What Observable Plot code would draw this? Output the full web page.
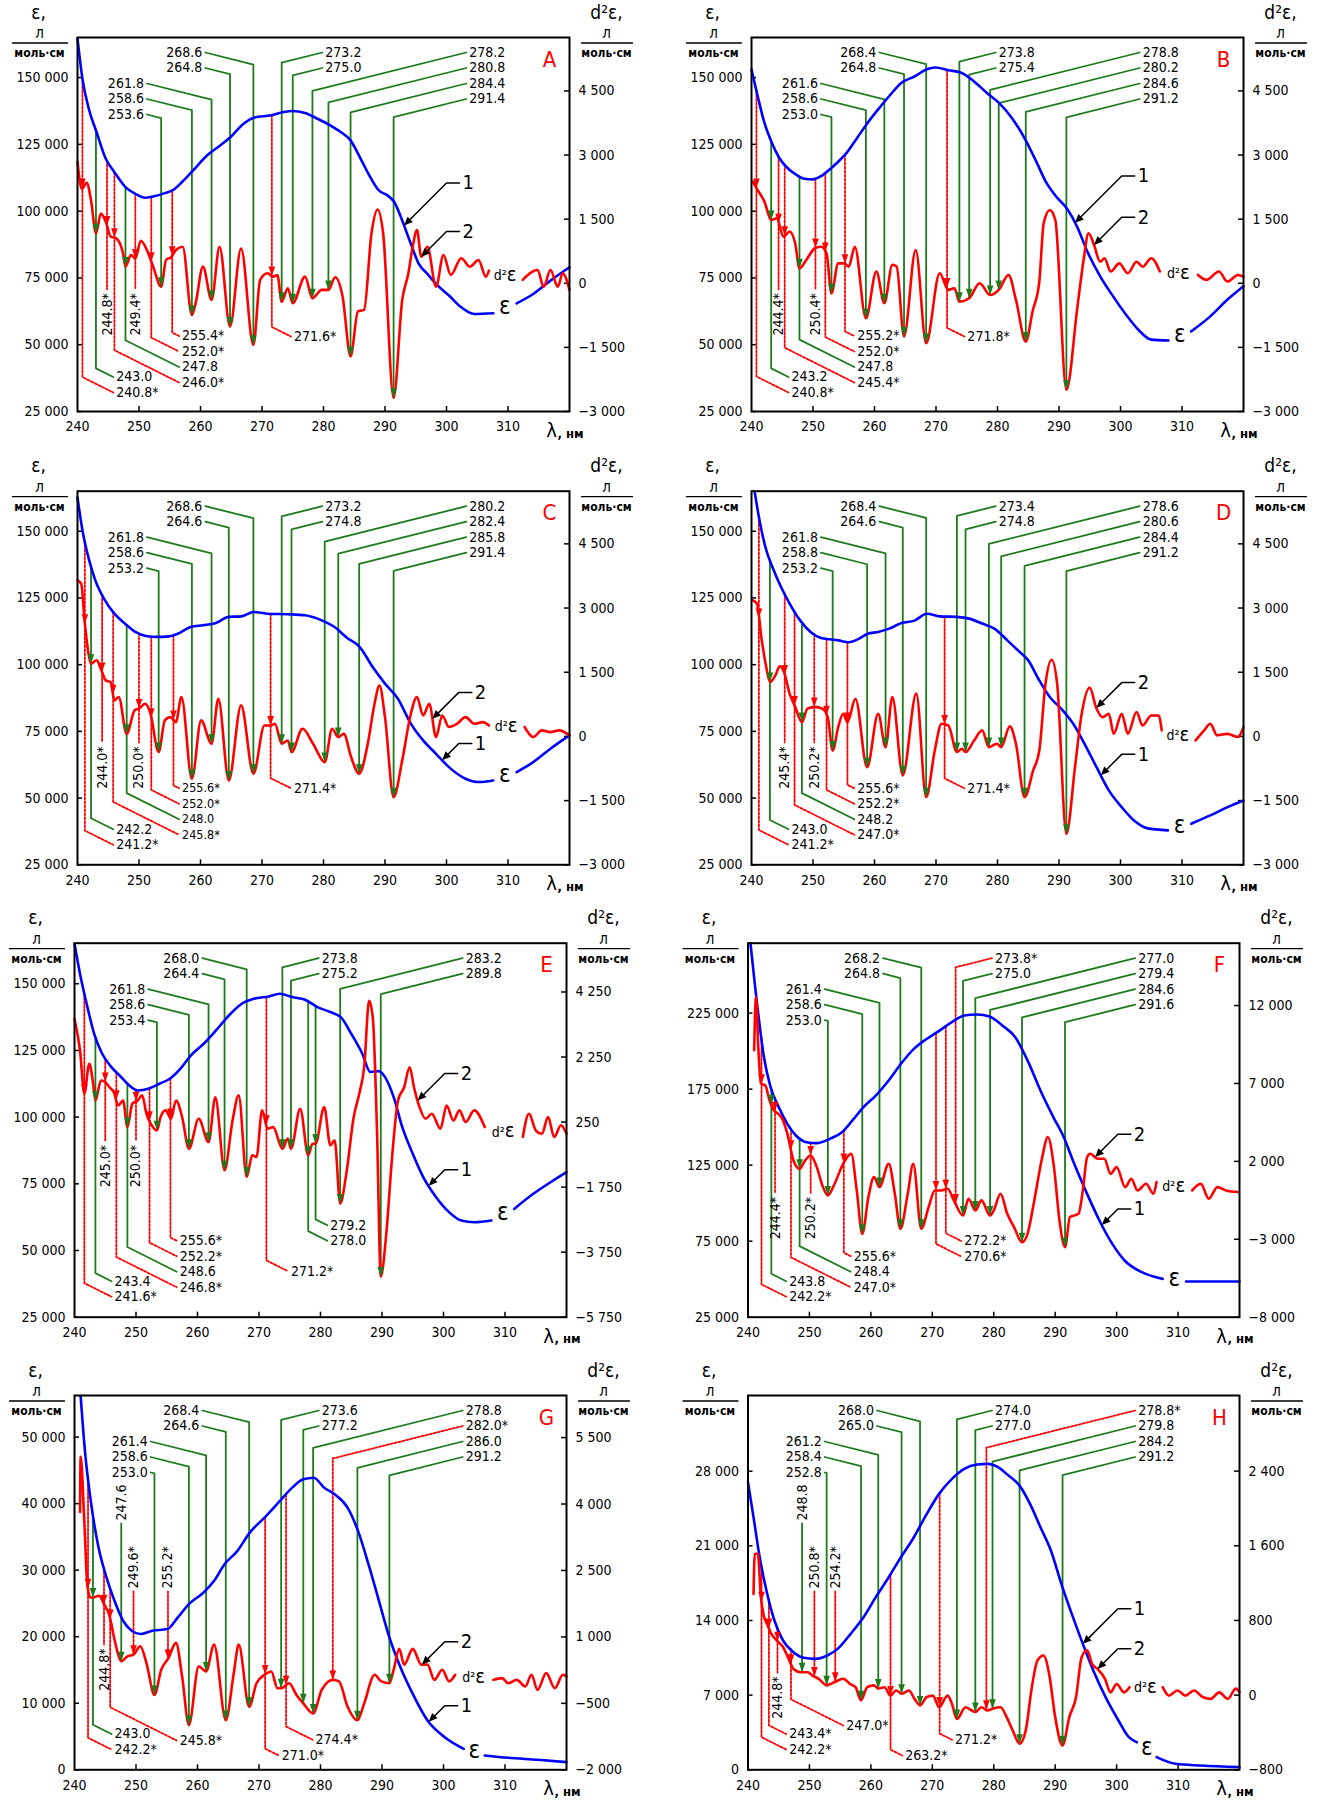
<!DOCTYPE html>
<html lang="ru">
<head>
<meta charset="utf-8">
<title>Спектры</title>
<script src="https://cdn.jsdelivr.net/npm/d3@7"></script>
<script src="https://cdn.jsdelivr.net/npm/@observablehq/plot@0.6"></script>
<style>
html,body{margin:0;padding:0;background:#fff;}
#root{position:relative;width:1321px;height:1801px;overflow:hidden;background:#fff;}
#root svg{position:absolute;}
</style>
</head>
<body>
<div id="root"></div>
<script>
// ---------------- axes / ticks ----------------
const X_MIN = 240, X_MAX = 320;
const X_TICKS = [240, 250, 260, 270, 280, 290, 300, 310];
const L_AD = [25000, 50000, 75000, 100000, 125000, 150000];
const R_AD = [-3000, -1500, 0, 1500, 3000, 4500];
const R_E = [-5750, -3750, -1750, 250, 2250, 4250];
const L_F = [25000, 75000, 125000, 175000, 225000];
const R_F = [-8000, -3000, 2000, 7000, 12000];
const L_G = [0, 10000, 20000, 30000, 40000, 50000];
const R_G = [-2000, -500, 1000, 2500, 4000, 5500];
const L_H = [0, 7000, 14000, 21000, 28000];
const R_H = [-800, 0, 800, 1600, 2400];

// ---------------- panel A ----------------
const A_eps = [[240,164600],[240.8,149600],[241.9,137750],[243.1,129600],[244.6,119600],[246,114600],[247.8,109000],[249.4,106500],[251,105000],[252.3,105500],[254.2,106750],[255.6,108000],[257,110900],[258.7,115000],[261.1,120900],[263.2,124600],[264.9,127750],[267,132750],[268.7,135000],[271.5,135900],[273.5,137100],[274.9,137500],[277,136750],[279,134600],[281.1,132100],[282.8,129600],[284.4,126500],[285.9,120250],[287.3,114000],[289,107750],[290.4,105900],[291.5,103400],[292.8,96500],[294.2,87750],[295.5,80250],[296.9,76500],[298.3,72750],[300.4,68400],[302.4,64000],[304.5,61500],[307.6,61750]];
const A_eps_tail = [[311.4,65500],[314.1,69000],[316.9,74000],[320,79000]];
const A_d2 = [[240,2840],[240.7,2210],[241.5,2350],[242.2,1940],[243,1170],[243.8,1630],[244.6,1440],[245.4,1090],[246.3,1050],[247.4,700],[247.8,390],[248.7,660],[249.4,580],[250.3,995],[251.5,700],[252.3,390],[253.6,-80],[254.4,545],[255.3,620],[256,780],[257.1,855],[258.6,-740],[259.2,-470],[260.4,390],[261.8,-390],[263.1,855],[264.8,-1010],[266.6,815],[268.6,-1440],[269.7,80],[270.9,235],[271.8,155],[272.5,195],[273.2,-430],[274.2,-115],[275,-465],[277,155],[278.2,-350],[279.7,-155],[280.8,-155],[281.9,140],[283.1,-310],[284.4,-1710],[285.6,-660],[286.6,-620],[287.8,1165],[288.8,1725],[289.7,1165],[291.4,-2680],[292.8,-390],[293.8,235],[294.5,855],[295.2,1245],[295.9,620],[296.9,855],[298.3,-80],[299.5,660],[300.7,195],[302.4,585],[303.8,390],[305.2,545],[306.4,155],[306.9,295]];
const A_d2_tail = [[312.4,80],[314.8,310],[315.8,-80],[316.9,310],[318.1,-80],[318.9,235],[320,-155]];
const A_marks = [["268.6","TL",0,0],["264.8","TL",0,1],["261.8","TL",1,2],["258.6","TL",1,3],["253.6","TL",1,4],
 ["273.2","TR",0,0],["275.0","TR",0,1],["278.2","TR",1,0],["280.8","TR",1,1],["284.4","TR",1,2],["291.4","TR",1,3],
 ["240.8*","B",0,0],["243.0","B",0,1],["246.0*","B",1,0],["247.8","B",1,1],["252.0*","B",1,2],["255.4*","B",1,3],["271.6*","B",2,0],
 ["244.8*","V",0],["249.4*","V",0]];

// ---------------- panel B ----------------
const B_eps = [[240,153100],[241,143100],[242.1,133100],[243.3,125600],[244.5,120000],[245.8,116250],[247.2,113750],[248.6,112100],[250,111900],[251.3,113100],[252.7,115600],[254.1,118500],[255.5,121900],[257.2,127500],[258.9,133100],[260.6,138100],[262.4,143100],[264.4,148100],[266.5,150400],[268.5,153100],[269.9,153750],[272,152750],[274,151900],[276.1,148750],[278.2,144400],[280.2,140600],[282.3,135000],[284.5,126900],[286.4,118100],[287.8,111250],[289.5,105600],[291.4,100600],[292.9,94400],[294.7,84400],[296.7,75600],[298.8,68100],[300.9,61250],[302.9,55600],[305,51900],[307.8,51600]];
const B_eps_tail = [[311.5,55000],[314.6,60600],[317.4,66900],[320,71900]];
const B_d2 = [[240.2,2380],[241,2180],[242.1,1910],[243.2,1480],[244.1,1520],[245.2,1090],[246.2,1210],[247.1,935],[247.8,350],[248.9,545],[250.3,820],[251.3,855],[252.2,700],[253,-235],[254.1,465],[255.1,465],[255.8,390],[256.8,855],[258.6,-820],[260.3,275],[261.6,-465],[262.9,430],[263.6,390],[264.8,-1245],[266.7,780],[268.4,-1400],[270.6,235],[272,-155],[273,-115],[273.8,-430],[275.4,-350],[277.1,0],[278.8,-275],[280.2,-155],[281.8,195],[283,-390],[284.6,-1365],[285.7,-660],[286.8,40],[287.5,1400],[288.5,1715],[289.4,1480],[291.2,-2490],[293,-545],[294,545],[294.8,1170],[295.7,895],[296.7,505],[297.4,585],[298.4,275],[299.8,465],[301.2,235],[302.6,505],[303.6,390],[305,585],[306.4,275]];
const B_d2_tail = [[312.6,195],[314,80],[316,275],[317.4,40],[319.1,195],[320,155]];
const B_marks = [["268.4","TL",0,0],["264.8","TL",0,1],["261.6","TL",1,2],["258.6","TL",1,3],["253.0","TL",1,4],
 ["273.8","TR",0,0],["275.4","TR",0,1],["278.8","TR",1,0],["280.2","TR",1,1],["284.6","TR",1,2],["291.2","TR",1,3],
 ["240.8*","B",0,0],["243.2","B",0,1],["245.4*","B",1,0],["247.8","B",1,1],["252.0*","B",1,2],["255.2*","B",1,3],["271.8*","B",2,0],
 ["244.4*","V",0],["250.4*","V",0]];

// ---------------- panel C ----------------
const C_eps = [[240,162600],[240.8,150400],[241.9,139100],[242.9,131600],[244.3,124750],[246,119100],[247.7,115400],[249.4,112250],[251.1,110750],[252.9,110400],[254.9,110600],[256.3,111600],[258.4,114100],[260.4,114750],[262.5,115600],[264.6,117900],[266.6,118100],[268.7,119750],[270.8,119100],[274.2,118900],[277,118500],[279.7,116600],[281.8,114100],[283.8,110100],[285.9,106600],[288,99100],[290,92900],[292.1,87250],[294.2,77900],[296.2,71600],[298.3,66600],[300.4,61600],[303.1,57250],[305.2,56000],[307.6,56600]];
const C_eps_tail = [[311.4,59750],[314.1,63500],[316.9,68500],[320,73500]];
const C_d2 = [[240,3650],[240.6,3570],[241.2,2630],[241.9,1850],[242.2,1700],[243.1,1780],[243.9,1540],[244.6,1310],[245.4,1270],[246,840],[246.7,920],[248,60],[249.3,610],[250,650],[251,765],[251.8,570],[253.2,-365],[254.2,375],[255.1,450],[256,335],[256.9,920],[258.6,-990],[260.1,375],[261.8,-170],[262.9,880],[264.6,-1030],[266.6,725],[268.6,-870],[270.4,255],[271.4,255],[272.1,295],[273.2,-170],[274.2,-95],[274.8,-365],[276.6,180],[278.3,-170],[280.2,-600],[281.4,180],[282.4,-15],[283.3,60],[284.5,-485],[285.8,-870],[287.2,-170],[288.3,765],[289.1,1190],[290,450],[291.4,-1420],[292.8,-560],[294.2,530],[295.2,920],[296.2,490],[297.2,765],[298.3,-15],[299.3,490],[300.4,220],[301.7,295],[303.1,450],[304.5,295],[305.9,335],[306.9,255]];
const C_d2_tail = [[312.7,220],[314.1,-15],[315.5,140],[316.9,100],[318.3,140],[320,25]];
const C_marks = [["268.6","TL",0,0],["264.6","TL",0,1],["261.8","TL",1,2],["258.6","TL",1,3],["253.2","TL",1,4],
 ["273.2","TR",0,0],["274.8","TR",0,1],["280.2","TR",1,0],["282.4","TR",1,1],["285.8","TR",1,2],["291.4","TR",1,3],
 ["241.2*","B",0,0],["242.2","B",0,1],["245.8*","B",1,0],["248.0","B",1,1],["252.0*","B",1,2],["255.6*","B",1,3],["271.4*","B",2,0],
 ["244.0*","V",0],["250.0*","V",0]];

// ---------------- panel D ----------------
const D_eps = [[240.5,165000],[241.4,152900],[242.4,142900],[243.4,136600],[244.8,129100],[246.2,122900],[247.9,116600],[249.6,112250],[251.3,110000],[252.7,109500],[254.1,109100],[255.8,108400],[257.5,109750],[258.9,111600],[260.6,112250],[262.4,113500],[264.4,115600],[266.5,116500],[268.5,119100],[270.6,118100],[273.4,117900],[275.4,117250],[277.5,115400],[279.5,113500],[281.6,109100],[283.3,105400],[285,101600],[286.8,94100],[288.5,87900],[290.6,82900],[292.3,77900],[294,71000],[296.1,61600],[298.1,52900],[300.2,46600],[302.2,41600],[304.3,38750],[307.7,37900]];
const D_eps_tail = [[311.5,40400],[314.6,43500],[317.4,46600],[320,49100]];
const D_d2 = [[240.2,3180],[240.9,3100],[241.6,2320],[242.4,1620],[243,1270],[243.9,1430],[244.6,1640],[245.3,1500],[246.2,1000],[247.1,690],[248.2,335],[249.1,650],[250.3,690],[251.5,650],[252.4,450],[253.2,-330],[254.1,220],[254.9,530],[255.6,335],[256.9,880],[258.8,-720],[260.6,530],[261.8,-250],[262.9,920],[264.6,-910],[266.8,1000],[268.4,-1420],[269.8,-330],[270.9,295],[272,255],[273.4,-365],[274.2,-290],[274.8,-365],[276.2,-95],[277.5,140],[278.6,-250],[279.9,-170],[280.6,-250],[282,235],[283,-170],[284.4,-1420],[285.8,-795],[286.8,-330],[287.8,1230],[288.8,1790],[289.7,1230],[291.2,-2275],[292.6,-720],[293.6,450],[295,1140],[296,690],[297.1,450],[298.1,530],[298.9,60],[300.2,530],[301.2,60],[302.6,570],[303.6,255],[305,490],[306.2,490],[306.7,140]];
const D_d2_tail = [[312.2,-95],[313.6,140],[314.6,295],[315.7,25],[317.4,60],[319.1,-15],[320,220]];
const D_marks = [["268.4","TL",0,0],["264.6","TL",0,1],["261.8","TL",1,2],["258.8","TL",1,3],["253.2","TL",1,4],
 ["273.4","TR",0,0],["274.8","TR",0,1],["278.6","TR",1,0],["280.6","TR",1,1],["284.4","TR",1,2],["291.2","TR",1,3],
 ["241.2*","B",0,0],["243.0","B",0,1],["247.0*","B",1,0],["248.2","B",1,1],["252.2*","B",1,2],["255.6*","B",1,3],["271.4*","B",2,0],
 ["245.4*","V",0],["250.2*","V",0]];

// ---------------- panel E ----------------
const E_eps = [[240,165000],[241,152500],[242.1,141250],[243.2,131250],[244.5,123750],[246,118750],[247.6,115000],[248.9,111900],[250.3,110000],[252,110600],[253.8,112500],[255.5,114400],[257.2,118100],[258.9,123100],[261,127500],[263,132500],[265.1,138100],[267.2,142500],[269.2,144400],[271.6,145250],[273.4,146250],[275.4,145000],[277.5,144000],[279.5,141250],[281.6,139400],[283.3,137500],[285,131250],[286.8,123750],[288.1,116900],[289.5,117250],[290.5,115000],[291.9,107500],[293.3,96250],[295,86250],[296.7,77500],[298.8,70000],[300.9,64400],[302.9,61250],[305,60600],[307.8,61250]];
const E_eps_tail = [[311.5,65600],[314.6,71250],[317.4,75600],[320,79400]];
const E_d2 = [[240,3420],[240.9,2450],[241.6,1120],[242.4,2040],[243,1480],[243.4,910],[244.3,1530],[245,1480],[245.7,1320],[246.4,1170],[247.1,760],[247.9,915],[248.6,100],[249.4,810],[250.3,915],[251,1070],[251.7,505],[252.4,200],[253.4,-5],[254,405],[254.8,610],[255.7,350],[256.5,915],[257.5,405],[258.6,-570],[260.2,350],[261.8,-365],[262.9,1015],[264.4,-1230],[265.7,300],[266.7,1070],[268,-1435],[268.9,-770],[269.6,-825],[270.5,610],[271.4,45],[272.3,95],[273.8,-570],[274.7,-260],[275.2,-570],[276.7,660],[278,-770],[278.7,-415],[279.2,-415],[280.6,710],[281.6,-465],[282.3,-310],[283.2,-2255],[284.2,-1335],[285.4,405],[286.3,1120],[287.1,1935],[287.9,3980],[288.5,3470],[289.2,-110],[289.8,-4500],[290.7,-3175],[291.6,-925],[292.6,915],[293.6,1320],[294.5,1935],[295.2,1320],[296.1,710],[297.1,350],[298.1,505],[299.5,45],[300.5,760],[301.6,300],[302.6,610],[303.6,250],[305,610],[306.7,95]];
const E_d2_tail = [[312.9,-210],[313.9,505],[315,-5],[316,-110],[317,405],[318,-210],[319.1,150],[320,-110]];
const E_marks = [["268.0","TL",0,0],["264.4","TL",0,1],["261.8","TL",1,2],["258.6","TL",1,3],["253.4","TL",1,4],
 ["273.8","TR",0,0],["275.2","TR",0,1],["283.2","TR",1,0],["289.8","TR",1,1],
 ["241.6*","B",0,0],["243.4","B",0,1],["246.8*","B",1,0],["248.6","B",1,1],["252.2*","B",1,2],["255.6*","B",1,3],["271.2*","B",2,0],["278.0","B",3,0],["279.2","B",3,1],
 ["245.0*","V",0],["250.0*","V",0]];

// ---------------- panel F ----------------
const F_eps = [[240.4,271000],[241.6,226800],[242.6,196000],[243.6,177400],[245,163200],[246.4,152200],[247.8,144500],[249.5,140100],[251.2,139500],[253.3,142300],[255.3,146700],[257,154400],[258.8,163200],[260.8,170800],[262.9,180700],[264.9,191700],[267,201500],[268.7,207000],[270.8,212500],[273.2,219100],[275.2,223500],[277.3,224100],[279.3,222800],[281.4,216900],[283.5,209200],[285.5,193900],[287.6,174100],[289.7,156600],[291.4,143400],[293.1,125900],[295.2,106100],[297.2,88600],[299.3,73200],[301.3,62300],[304.1,54600],[307.5,50200]];
const F_eps_tail = [[311.3,48500],[315,48500],[320,48500]];
const F_d2 = [[241,9130],[241.3,12550],[241.7,9130],[242.1,6990],[242.8,6880],[243.5,5920],[244.2,5270],[244.9,5060],[245.7,4630],[246.4,3780],[247.4,2060],[248.4,1530],[249.3,2060],[250.2,2380],[251.2,1630],[252.2,350],[253,-185],[254.1,565],[255.5,1850],[256.8,2490],[257.7,135],[258.6,-2650],[259.6,-290],[260.5,990],[261.4,350],[262.9,1850],[263.9,-80],[264.8,-2325],[266,-80],[266.9,1850],[268.2,-2325],[269.4,-935],[270.4,135],[271.5,135],[272.5,245],[273.5,-505],[275,-1470],[275.9,-400],[277,-1150],[278,-505],[279.4,-1470],[280,-1150],[281.1,-80],[282.2,-1365],[283.3,-2220],[284.6,-3185],[285.5,-2650],[286.6,-505],[287.9,2280],[288.8,3560],[289.8,1630],[290.7,-1790],[291.6,-3505],[292.4,-1575],[293.8,-1365],[294.5,135],[295.2,2280],[295.7,2490],[296.9,2170],[298,2170],[299,1205],[300,1630],[301.4,350],[302.4,885],[303.4,135],[304.8,565],[306,-80],[306.5,670]];
const F_d2_tail = [[312.3,135],[313.7,565],[315,-400],[316.4,350],[317.8,135],[319.7,30]];
const F_marks = [["268.2","TL",0,0],["264.8","TL",0,1],["261.4","TL",1,2],["258.6","TL",1,3],["253.0","TL",1,4],
 ["273.8*","TR",0,0],["275.0","TR",0,1],["277.0","TR",1,0],["279.4","TR",1,1],["284.6","TR",1,2],["291.6","TR",1,3],
 ["242.2*","B",0,0],["243.8","B",0,1],["247.0*","B",1,0],["248.4","B",1,1],["255.6*","B",1,2],["270.6*","B",2,0],["272.2*","B",2,1],
 ["244.4*","V",0],["250.2*","V",0]];

// ---------------- panel G ----------------
const G_eps = [[241,56150],[241.7,47900],[242.8,39400],[243.8,33900],[245.2,28900],[246.5,25400],[247.9,22400],[249.3,20900],[250.7,20400],[252.7,20900],[255.1,21150],[256.8,22900],[258.6,24900],[261,26650],[262.7,28400],[264.4,30900],[266.5,32900],[268.5,35650],[270.9,37900],[273.4,40400],[275.4,42400],[277.2,43650],[278.9,43900],[280.6,42400],[282.3,41400],[284.4,39400],[286.1,35900],[287.8,30900],[289.5,25400],[291.2,19900],[293,15400],[295,11400],[297.4,7400],[300.2,4900],[303.3,3150]];
const G_eps_tail = [[306.7,2150],[310.5,1800],[315.3,1500],[320,1150]];
const G_d2 = [[240.9,3820],[241,5070],[241.6,3590],[242.1,2150],[242.6,1890],[243,1890],[244,1930],[244.8,1740],[245.7,1470],[246.5,940],[247.2,560],[247.6,450],[248.6,560],[249.6,600],[250.7,790],[251.7,410],[253,-310],[254.1,260],[255.3,525],[256.5,865],[257.5,105],[258.6,-990],[260.2,335],[261.4,220],[262.7,825],[264.6,-880],[265.9,185],[266.7,825],[268.4,-575],[269.6,-45],[270.9,145],[272,220],[273,-160],[273.6,-160],[274.9,-45],[276.1,-310],[277.2,-500],[278.8,-730],[280.2,-195],[282,30],[283,-5],[284.4,-575],[286,-880],[287.1,-500],[288.8,145],[289.9,-5],[291.2,-45],[291.9,260],[292.8,730],[293.6,375],[295,730],[296.4,375],[297.4,375],[298.5,30],[299.8,260],[300.9,-5],[301.9,145]];
const G_d2_tail = [[308.1,30],[309.5,70],[310.5,-45],[311.9,30],[313.3,-120],[314.3,145],[315.3,-195],[316.7,185],[318.1,-160],[319.4,145],[320,105]];
const G_marks = [["268.4","TL",0,0],["264.6","TL",0,1],["261.4","TL",1,2],["258.6","TL",1,3],["253.0","TL",1,4],
 ["273.6","TR",0,0],["277.2","TR",0,1],["278.8","TR",1,0],["282.0*","TR",1,1],["286.0","TR",1,2],["291.2","TR",1,3],
 ["242.2*","B",0,0],["243.0","B",0,1],["245.8*","B",1,0],["271.0*","B",2,0],["274.4*","B",3,0],
 ["244.8*","V",0],["247.6","VT",0],["249.6*","VT",1],["255.2*","VT",1]];

// ---------------- panel H ----------------
const H_eps = [[240,26970],[240.9,23690],[241.9,19940],[243,16810],[244.3,14000],[245.7,12125],[247.4,11030],[249.1,10500],[250.9,10400],[252.9,10720],[254.6,11340],[256.7,12750],[258.8,14310],[260.8,16190],[262.9,18060],[264.9,19940],[267,21810],[269.1,24000],[271.1,25875],[273.2,27280],[275.2,28220],[277.3,28625],[279,28690],[280.7,28375],[282.4,27590],[284.2,26650],[285.9,24940],[287.6,22750],[289.3,20560],[291,17440],[292.7,14625],[294.5,11810],[296.2,9310],[298.2,6810],[300.3,4625],[302,3060],[303.3,2590]];
const H_eps_tail = [[306.5,1190],[309.6,560],[313.7,400],[320,250]];
const H_d2 = [[240.9,1085],[241.1,1515],[241.6,1515],[242.1,1050],[242.5,870],[243.1,765],[243.8,655],[244.7,585],[245.7,515],[246.6,390],[247.4,280],[248.6,245],[249.7,245],[250.5,210],[251.5,175],[252.8,105],[254.1,140],[255.5,175],[256.6,120],[257.5,85],[258.4,-55],[259.4,85],[260.5,105],[261.2,70],[262.2,85],[263.2,-5],[264.1,50],[265,15],[266.2,50],[267.1,-40],[268,-110],[269.1,-20],[270.1,-5],[271.1,-130],[272.5,-5],[273.2,-95],[274,-255],[275.4,-130],[277,-180],[278,-130],[279,-165],[279.8,-145],[281.1,-130],[282.1,-235],[283.1,-380],[284.2,-520],[285.2,-380],[286.2,85],[287.1,370],[288.1,425],[289.1,195],[290,-235],[291.2,-540],[292.3,-235],[293.4,-20],[294.3,405],[295.2,480],[296,335],[296.9,280],[298.1,175],[299,30],[300,120],[301.2,30],[302.1,85]];
const H_d2_tail = [[307.5,85],[308.5,-5],[309.9,50],[311.2,-5],[312.6,50],[314,-20],[315.3,-40],[316.7,30],[318.1,-40],[319.4,70],[320,30]];
const H_marks = [["268.0","TL",0,0],["265.0","TL",0,1],["261.2","TL",1,2],["258.4","TL",1,3],["252.8","TL",1,4],
 ["274.0","TR",0,0],["277.0","TR",0,1],["278.8*","TR",1,0],["279.8","TR",1,1],["284.2","TR",1,2],["291.2","TR",1,3],
 ["242.2*","B",0,0],["243.4*","B",0,1],["247.0*","B",1,0],["263.2*","B",2,0],["271.2*","B",3,0],
 ["244.8*","V",0],["248.8","VT",0],["250.8*","VT",1],["254.2*","VT",1]];

// ---------------- layout (positions in page px / nm) ----------------
const PANELS = [
 {id:"A", origin:[0,0], size:[660,450], frame:[77,37,569,411], yL:[25000,165000], yR:[-3000,5750], lt:L_AD, rt:R_AD,
  eps:[A_eps,A_eps_tail], d2:[A_d2,A_d2_tail], marks:A_marks, tl:[260.3,250.8], tr:[280.3,303.7],
  b:[[246.3,19],[257.0,29],[275.2,75]], vUp:[76], vtDown:[], bend:300.0, tips:{"1":293.1,"2":295.9}},
 {id:"B", origin:[660,0], size:[661,450], frame:[751,37,1243,411], yL:[25000,165000], yR:[-3000,5750], lt:L_AD, rt:R_AD,
  eps:[B_eps,B_eps_tail], d2:[B_d2,B_d2_tail], marks:B_marks, tl:[260.3,250.8], tr:[280.2,303.6],
  b:[[246.5,19],[257.2,29],[275.1,75]], vUp:[76], vtDown:[], bend:300.2, tips:{"1":292.6,"2":295.7}},
 {id:"C", origin:[0,450], size:[660,450], frame:[77,490.7,569,864.3], yL:[25000,165000], yR:[-3000,5730], lt:L_AD, rt:R_AD,
  eps:[C_eps,C_eps_tail], d2:[C_d2,C_d2_tail], marks:C_marks, tl:[260.3,250.8], tr:[280.3,303.7],
  b:[[246.3,20],[257.0,30,12.5],[275.2,76.5]], vUp:[76], vtDown:[], bend:302.0, tips:{"1":299.3,"2":297.7}},
 {id:"D", origin:[660,450], size:[661,450], frame:[751,490.7,1243,864.3], yL:[25000,165000], yR:[-3000,5730], lt:L_AD, rt:R_AD,
  eps:[D_eps,D_eps_tail], d2:[D_d2,D_d2_tail], marks:D_marks, tl:[260.3,250.8], tr:[280.2,303.6],
  b:[[246.5,20],[257.2,30],[275.1,76.5]], vUp:[76], vtDown:[], bend:300.2, tips:{"1":296.8,"2":296.1}},
 {id:"E", origin:[0,900], size:[660,450], frame:[74,942.7,566,1316.7], yL:[25000,165200], yR:[-5750,5750], lt:L_AD, rt:R_E,
  eps:[E_eps,E_eps_tail], d2:[E_d2,E_d2_tail], marks:E_marks, tl:[260.3,251.5], tr:[280.2,303.6],
  b:[[246.5,20.5],[257.1,30],[275.2,46],[281.6,76.5]], vUp:[130], vtDown:[], bend:300.2, tips:{"1":297.6,"2":295.8}},
 {id:"F", origin:[660,900], size:[661,450], frame:[747.5,942.7,1239,1316.7], yL:[25000,271000], yR:[-8000,16000], lt:L_F, rt:R_F,
  eps:[F_eps,F_eps_tail], d2:[F_d2,F_d2_tail], marks:F_marks, tl:[261.5,252.0], tr:[280.2,303.5],
  b:[[246.7,20.5],[257.2,30],[275.2,60.7]], vUp:[78], vtDown:[], bend:300.2, tips:{"1":297.6,"2":296.5}},
 {id:"G", origin:[0,1350], size:[660,451], frame:[74,1395,566,1769.3], yL:[0,56250], yR:[-2000,6450], lt:L_G, rt:R_G,
  eps:[G_eps,G_eps_tail], d2:[G_d2,G_d2_tail], marks:G_marks, tl:[260.3,251.9], tr:[280.2,303.6],
  b:[[246.5,20.3],[257.1,29.3],[273.7,14.3],[279.2,30]], vUp:[79], vtDown:[125,193], bend:300.2, tips:{"1":297.6,"2":296.5}},
 {id:"H", origin:[660,1350], size:[661,451], frame:[747.5,1395,1239,1769.3], yL:[0,35100], yR:[-800,3210], lt:L_H, rt:R_H,
  eps:[H_eps,H_eps_tail], d2:[H_d2,H_d2_tail], marks:H_marks, tl:[260.5,252.0], tr:[280.2,303.5],
  b:[[246.7,20.3],[256.0,44.3],[265.6,14.3],[273.7,30]], vUp:[51], vtDown:[125,193], bend:300.2, tips:{"1":294.5,"2":296.9}}
];

// ---------------- style ----------------
const FONT = '"DejaVu Sans Condensed", "DejaVu Sans", Verdana, sans-serif';
const GREEN = "#1d7a1d", RED = "#ff0000", BLUE = "#0000ff";
const ROW0 = 15, ROWS = 15.5, SLOPE_T = 0.25, SLOPE_B = 0.5, GAP = 3;
const loc = d3.formatLocale({decimal: ".", thousands: "\u00a0", grouping: [3], currency: ["", ""], minus: "\u2212"});
const fmt = loc.format(",");
const arrowDown = {draw(ctx) { ctx.moveTo(0, 0); ctx.lineTo(-3.3, -9.5); ctx.lineTo(3.3, -9.5); ctx.closePath(); }};
const arrowDL = {draw(ctx) { ctx.moveTo(0, 0); ctx.lineTo(8.8, -3.4); ctx.lineTo(3.4, -8.8); ctx.closePath(); }};

function interp(segs, w) {
  const a = segs.flat();
  if (w <= a[0].w) return a[0].v;
  for (let i = 1; i < a.length; i++) {
    if (a[i].w >= w) { const p = a[i - 1], q = a[i]; return p.v + (q.v - p.v) * (w - p.w) / (q.w - p.w); }
  }
  return a[a.length - 1].v;
}

function drawPanel(P) {
  const [fl, ft, fr, fb] = P.frame;
  const [ox, oy] = P.origin;
  const [W, H] = P.size;
  const fw = fr - fl, fh = fb - ft;
  const [L0, L1] = P.yL, [R0, R1] = P.yR;
  const xPx = w => (w - X_MIN) / (X_MAX - X_MIN) * fw;
  const xNm = p => X_MIN + p / fw * (X_MAX - X_MIN);
  const yPx = v => (L1 - v) / (L1 - L0) * fh;
  const yVal = p => L1 - p / fh * (L1 - L0);
  const toL = r => L0 + (r - R0) / (R1 - R0) * (L1 - L0);
  const toR = v => R0 + (v - L0) / (L1 - L0) * (R1 - R0);
  const pt = (px, py, extra) => Object.assign({x: xNm(px), y: yVal(py)}, extra || {});

  const eps = P.eps.map(s => s.map(([w, v]) => ({w, v})));
  const d2 = P.d2.map(s => s.map(([w, r]) => ({w, v: toL(r)})));

  const lines = [], heads = [], tStart = [], tEnd = [], tRot = [];
  P.marks.forEach(([t, kind, c, r], i) => {
    const w = parseFloat(t), red = t.includes("*");
    const xw = xPx(w), tipY = yPx(interp(d2, w)), epsY = yPx(interp(eps, w));
    let poly;
    if (kind === "TL") {
      const ex = xPx(P.tl[c]), ry = ROW0 + ROWS * r;
      tEnd.push(pt(ex, ry, {text: t, size: 14}));
      const sx = ex + GAP, jy = ry + SLOPE_T * (xw - sx);
      poly = [[sx, ry], [xw, jy], [xw, tipY]];
    } else if (kind === "TR") {
      const ex = xPx(P.tr[c]), ry = ROW0 + ROWS * r;
      tStart.push(pt(ex, ry, {text: t, size: 14}));
      const sx = ex - GAP, jy = ry + SLOPE_T * (sx - xw);
      poly = [[sx, ry], [xw, jy], [xw, tipY]];
    } else if (kind === "B") {
      const [bx, base, fs] = P.b[c];
      const lx = xPx(bx), ly = fh - base - ROWS * r;
      tStart.push(pt(lx, ly, {text: t, size: fs || 14}));
      const sx = lx - GAP, yb = ly - SLOPE_B * (sx - xw);
      poly = [[xw, Math.min(epsY, tipY - 12)], [xw, yb], [sx, ly]];
    } else if (kind === "V") {
      const yBot = fh - P.vUp[c];
      tRot.push(pt(xw, yBot, {text: t}));
      poly = [[xw, Math.min(epsY, tipY - 12)], [xw, yBot - t.length * 7.2 - 3]];
    } else {
      const yBot = P.vtDown[c];
      tRot.push(pt(xw, yBot, {text: t}));
      poly = [[xw, yBot + 3], [xw, tipY]];
    }
    poly.forEach(([a, b]) => lines.push(pt(a, b, {id: i, red})));
    heads.push(pt(xw, tipY, {red}));
  });

  // curve labels 1 and 2
  const clLines = [], clHeads = [], clText = [];
  [["1", eps], ["2", d2]].forEach(([lab, segs]) => {
    const tw = P.tips[lab], tx = xPx(tw), ty = yPx(interp(segs, tw));
    const bx = xPx(P.bend), by = ty - (bx - tx), hx = bx + 13;
    [[hx, by], [bx, by], [tx + 2, ty - 2]].forEach(([a, b]) => clLines.push(pt(a, b, {id: lab})));
    clHeads.push(pt(tx, ty));
    clText.push(pt(hx + 3, by, {text: lab}));
  });

  // gap labels
  const gapMid = segs => {
    const a = segs[0][segs[0].length - 1], b = segs[1][0];
    return {x: (a.w + b.w) / 2, y: (a.v + b.v) / 2};
  };
  const gE = gapMid(eps), gD = gapMid(d2);
  const gDpx = xPx(gD.x) + 1;

  const tickLen = 5;
  const marks = [
    Plot.ruleY(P.lt, {y: d => d, x1: X_MIN, x2: xNm(tickLen), stroke: "black", strokeWidth: 1.5}),
    Plot.ruleY(P.rt.map(toL), {y: d => d, x1: xNm(fw - tickLen), x2: X_MAX, stroke: "black", strokeWidth: 1.5}),
    Plot.ruleX(X_TICKS.slice(1), {x: d => d, y1: L0, y2: yVal(fh - tickLen), stroke: "black", strokeWidth: 1.5}),
    Plot.axisY({anchor: "left", ticks: P.lt, tickSize: 0, tickPadding: 9, tickFormat: fmt, label: null}),
    Plot.axisY({anchor: "right", ticks: P.rt.map(toL), tickSize: 0, tickPadding: 9, tickFormat: d => fmt(Math.round(toR(d))), label: null}),
    Plot.axisX({ticks: X_TICKS, tickSize: 0, tickPadding: 10, tickFormat: d => String(d), label: null}),
    // annotation lines
    Plot.line(lines.filter(d => !d.red), {x: "x", y: "y", z: "id", stroke: GREEN, strokeWidth: 1.8}),
    Plot.line(lines.filter(d => d.red), {x: "x", y: "y", z: "id", stroke: RED, strokeWidth: 1.8, strokeDasharray: "2.2,1.8"}),
    // curves
    Plot.line(eps[0], {x: "w", y: "v", stroke: BLUE, strokeWidth: 2.6, curve: "monotone-x"}),
    Plot.line(eps[1], {x: "w", y: "v", stroke: BLUE, strokeWidth: 2.6, curve: "monotone-x"}),
    Plot.line(d2[0], {x: "w", y: "v", stroke: RED, strokeWidth: 2.6, curve: "monotone-x"}),
    Plot.line(d2[1], {x: "w", y: "v", stroke: RED, strokeWidth: 2.6, curve: "monotone-x"}),
    // arrowheads
    Plot.dot(heads.filter(d => !d.red), {x: "x", y: "y", symbol: arrowDown, r: 4, fill: GREEN, stroke: "none"}),
    Plot.dot(heads.filter(d => d.red), {x: "x", y: "y", symbol: arrowDown, r: 4, fill: RED, stroke: "none"}),
    // annotation labels
    Plot.text(tEnd, {x: "x", y: "y", text: "text", textAnchor: "end", fontSize: d => d.size, fill: "black"}),
    Plot.text(tStart, {x: "x", y: "y", text: "text", textAnchor: "start", fontSize: d => d.size, fill: "black"}),
    Plot.text(tRot, {x: "x", y: "y", text: "text", textAnchor: "start", rotate: -90, fontSize: 14, fill: "black"}),
    // curve identifiers
    Plot.line(clLines, {x: "x", y: "y", z: "id", stroke: "black", strokeWidth: 1.5}),
    Plot.dot(clHeads, {x: "x", y: "y", symbol: arrowDL, r: 4, fill: "black", stroke: "none"}),
    Plot.text(clText, {x: "x", y: "y", text: "text", textAnchor: "start", fontSize: 20, fill: "black"}),
    Plot.text([gE], {x: "x", y: "y", text: () => "\u03b5", fontSize: 24, dy: -2, fill: "black"}),
    Plot.text([{x: xNm(gDpx), y: gD.y}], {x: "x", y: "y", text: () => "d\u00b2", textAnchor: "end", fontSize: 14, dy: 0, fill: "black"}),
    Plot.text([{x: xNm(gDpx), y: gD.y}], {x: "x", y: "y", text: () => "\u03b5", textAnchor: "start", fontSize: 20, dy: -1, fill: "black"}),
    // panel letter
    Plot.text([pt(fw - 20, 22)], {x: "x", y: "y", text: () => P.id, fontSize: 22, fill: RED}),
    // axis titles
    Plot.text([pt(-39, -25)], {x: "x", y: "y", text: () => "\u03b5,", fontSize: 19}),
    Plot.text([pt(-38, -4.5)], {x: "x", y: "y", text: () => "\u043b", fontSize: 15}),
    Plot.line([pt(-65, 5.5), pt(-10, 5.5)], {x: "x", y: "y", stroke: "black", strokeWidth: 1.3}),
    Plot.text([pt(-38, 15.5)], {x: "x", y: "y", text: () => "\u043c\u043e\u043b\u044c\u00b7\u0441\u043c", fontSize: 12, fontWeight: "bold"}),
    Plot.text([pt(fw + 37, -25)], {x: "x", y: "y", text: () => "d\u00b2\u03b5,", fontSize: 19}),
    Plot.text([pt(fw + 37, -4.5)], {x: "x", y: "y", text: () => "\u043b", fontSize: 15}),
    Plot.line([pt(fw + 12, 5.5), pt(fw + 63, 5.5)], {x: "x", y: "y", stroke: "black", strokeWidth: 1.3}),
    Plot.text([pt(fw + 37, 15.5)], {x: "x", y: "y", text: () => "\u043c\u043e\u043b\u044c\u00b7\u0441\u043c", fontSize: 12, fontWeight: "bold"}),
    Plot.text([pt(fw - 18, fh + 19)], {x: "x", y: "y", text: () => "\u03bb", fontSize: 20}),
    Plot.text([pt(fw - 12, fh + 22)], {x: "x", y: "y", text: () => ", \u043d\u043c", textAnchor: "start", fontSize: 13, fontWeight: "bold"}),
    Plot.frame({stroke: "black", strokeWidth: 2})
  ];

  const svg = Plot.plot({
    width: W, height: H,
    marginLeft: fl - ox, marginTop: ft - oy, marginRight: ox + W - fr, marginBottom: oy + H - fb,
    x: {domain: [X_MIN, X_MAX]},
    y: {domain: [L0, L1]},
    style: {fontFamily: FONT, fontSize: "14px", background: "transparent", color: "black", overflow: "visible"},
    marks
  });
  svg.style.left = ox + "px";
  svg.style.top = oy + "px";
  svg.style.maxWidth = "none";
  document.getElementById("root").appendChild(svg);
}

PANELS.forEach(drawPanel);
</script>
</body>
</html>
